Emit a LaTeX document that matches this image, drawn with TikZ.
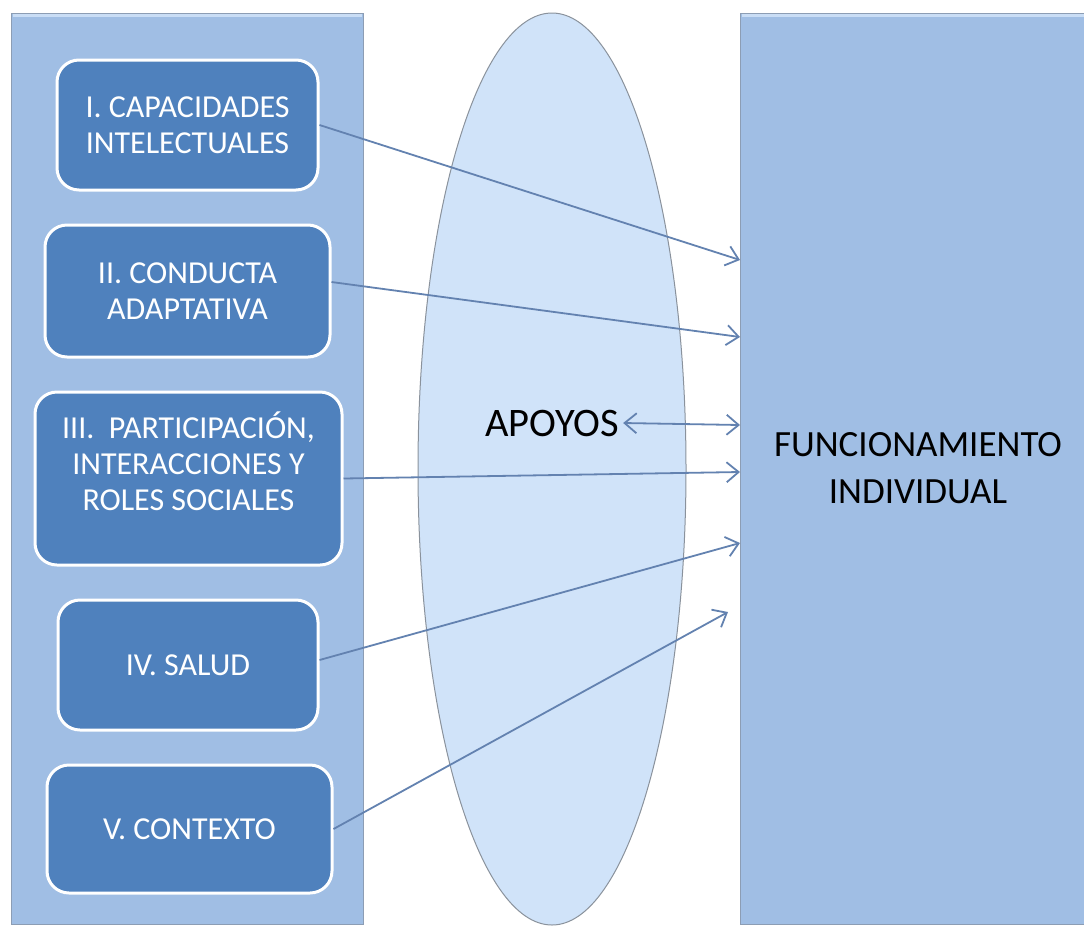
\documentclass[tikz,border=0pt]{standalone}
\usepackage{fontspec}
\setmainfont{Carlito}
\usetikzlibrary{arrows.meta,shapes.geometric}

\definecolor{panelblue}{HTML}{A0BEE4}
\definecolor{paneledge}{HTML}{8C9DB4}
\definecolor{bevel}{HTML}{C9DDF5}
\definecolor{boxblue}{HTML}{4F81BD}
\definecolor{ovalfill}{HTML}{D0E3F9}
\definecolor{ovaledge}{HTML}{8A929C}
\definecolor{linkblue}{HTML}{6382B0}

\tikzset{
  panel/.style={rectangle, fill=panelblue, draw=paneledge, line width=1pt, inner sep=0pt},
  dimbox/.style={rectangle, rounded corners=22pt, fill=boxblue, draw=white, line width=3pt,
    text=white, align=center, inner sep=0pt, font=\fontsize{32}{36}\selectfont},
  boxtext/.style={text=white, align=center, font=\fontsize{32}{36}\selectfont},
  oval/.style={ellipse, fill=ovalfill, draw=ovaledge, line width=1pt, inner sep=0pt},
  tip/.style={Straight Barb[length=12pt,width=20pt,line width=1.8pt]},
  link/.style={draw=linkblue, line width=1.8pt, -{Straight Barb[length=12pt,width=20pt,line width=1.8pt]}},
  twolink/.style={draw=linkblue, line width=1.8pt,
    {Straight Barb[length=12pt,width=20pt,line width=1.8pt]}-{Straight Barb[length=12pt,width=20pt,line width=1.8pt]}}
}

\begin{document}
\begin{tikzpicture}[x=1pt, y=-1pt]
  \useasboundingbox (0,0) rectangle (1084,927);

  % left column holding the five dimensions
  \node[panel, minimum width=352pt, minimum height=911pt] (left) at (187,468.5) {};
  \draw[bevel, line width=3pt] ([xshift=2pt,yshift=-2.5pt]left.north west) -- ([xshift=-2pt,yshift=-2.5pt]left.north east);

  \node[dimbox, minimum width=261pt, minimum height=130pt] (b1) at (187.5,125)
    {I. CAPACIDADES\\INTELECTUALES};
  \node[dimbox, minimum width=285pt, minimum height=132pt] (b2) at (187.5,291)
    {II. CONDUCTA\\ADAPTATIVA};
  \node[dimbox, minimum width=307pt, minimum height=173pt,
    label={[boxtext, yshift=17pt]center:III.~~PARTICIPACIÓN,\\INTERACCIONES Y\\ROLES SOCIALES}]
    (b3) at (188.5,478.5) {};
  \node[dimbox, minimum width=260pt, minimum height=130pt] (b4) at (188,665)
    {IV. SALUD};
  \node[dimbox, minimum width=285pt, minimum height=128pt] (b5) at (189.5,829)
    {V. CONTEXTO};

  % supports oval
  \node[oval, minimum width=268pt, minimum height=912pt] (sup) at (552,469) {};
  \node[font=\fontsize{40.5}{48}\selectfont, inner sep=8pt] (apoyos) at (552,423) {APOYOS};

  % individual functioning column
  \node[panel, minimum width=356pt, minimum height=911pt,
    align=center, font=\fontsize{37}{47}\selectfont] (fn) at (918,468.5)
    {FUNCIONAMIENTO\\INDIVIDUAL};
  \draw[bevel, line width=3pt] ([xshift=2pt,yshift=-2.5pt]fn.north west) -- ([xshift=-2pt,yshift=-2.5pt]fn.north east);

  % arrow targets on the left side of the functioning column
  \coordinate (t1) at (740,260);
  \coordinate (t2) at (740,337);
  \coordinate (ta) at (740,425);
  \coordinate (t3) at (740,472);
  \coordinate (t4) at (740,543);
  \coordinate (t5) at (728,612);

  \draw[link] (b1.east) -- (t1);
  \draw[link] ([yshift=9pt]b2.east) -- (t2);
  \draw[link] (b3.east) -- (t3);
  \draw[link] ([yshift=5pt]b4.east) -- (t4);
  \draw[link] (b5.east) -- (t5);
  \draw[twolink] ([xshift=-4pt]apoyos.east) -- (ta);
\end{tikzpicture}
\end{document}
